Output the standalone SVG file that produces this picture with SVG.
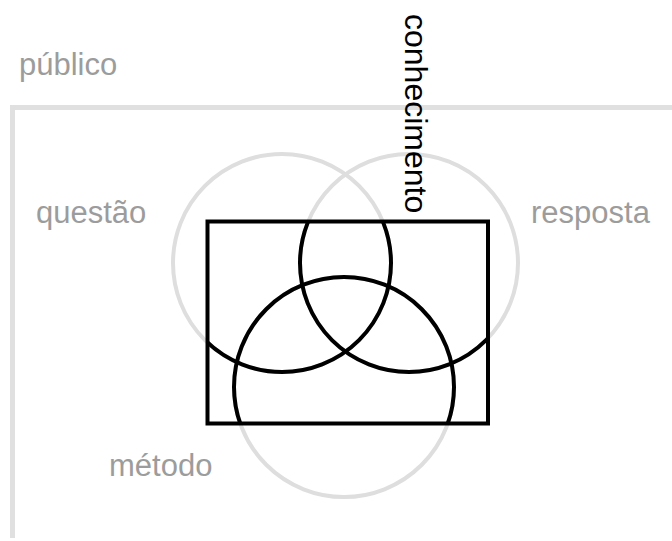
<svg xmlns="http://www.w3.org/2000/svg" width="672" height="541" viewBox="0 0 672 541">
<style>
.lbl{font-family:"Liberation Sans",Arial,sans-serif;font-size:31px;fill:#9c9c9c}
.ring{fill:none;stroke:#dedede;stroke-width:4}
.ink{fill:none;stroke:#000;stroke-width:4}
</style>
<defs>
<clipPath id="inside"><rect x="207.5" y="221.5" width="280.5" height="202"/></clipPath>
</defs>
<rect width="672" height="541" fill="#fff"/>
<g id="publico">
<path d="M12.5 538 V107.5 H672" fill="none" stroke="#e0e0e0" stroke-width="5"/>
<text class="lbl" x="19" y="75">público</text>
</g>
<g id="questao">
<circle class="ring" cx="282" cy="263" r="109"/>
<text class="lbl" x="36" y="223">questão</text>
</g>
<g id="resposta">
<circle class="ring" cx="409" cy="263" r="109"/>
<text class="lbl" x="531" y="223">resposta</text>
</g>
<g id="metodo">
<circle class="ring" cx="344" cy="387" r="110"/>
<text class="lbl" x="109" y="476">método</text>
</g>
<g id="conhecimento">
<rect class="ink" x="207.5" y="221.5" width="280.5" height="202" stroke-width="4.5"/>
<g clip-path="url(#inside)">
<circle class="ink" cx="282" cy="263" r="109"/>
<circle class="ink" cx="409" cy="263" r="109"/>
<circle class="ink" cx="344" cy="387" r="110"/>
</g>
<text x="405" y="14" transform="rotate(90 405 14)" font-family="'Liberation Sans',Arial,sans-serif" font-size="32" fill="#000">conhecimento</text>
</g>
</svg>
